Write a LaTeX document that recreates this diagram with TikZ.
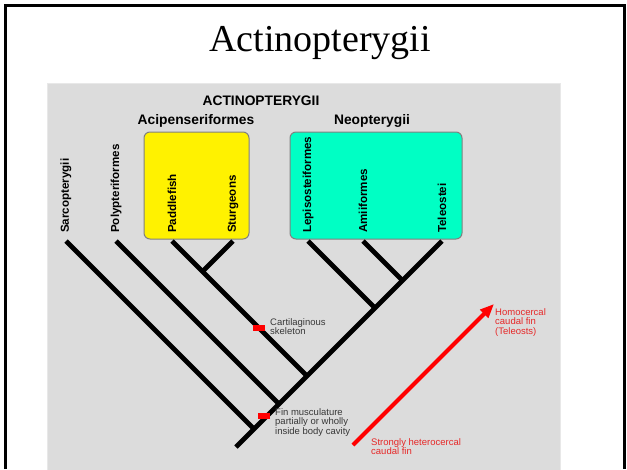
\documentclass[tikz,border=0pt]{standalone}
\usepackage{fontspec}
\setmainfont{Liberation Serif}
\setsansfont{Liberation Sans}
\usetikzlibrary{
  arrows.meta,
  calc,
  positioning
}
\definecolor{panelgray}{RGB}{220,220,220}
\definecolor{panelrim}{RGB}{232,232,232}
\definecolor{neogreen}{RGB}{0,255,196}
\definecolor{notegray}{RGB}{56,56,56}
\definecolor{notered}{RGB}{230,40,40}
\tikzset{
  % For the slide frame.
  frame/.style={
    line width=3pt},
%
  % For the grey panel behind the tree.
  panel/.style={
    fill=panelgray,
    draw=panelrim,
    line width=1pt},
%
  % For the coloured boxes round a clade.
  clade/.style={
    draw=gray,
    line width=1pt,
    rounded corners=6pt},
%
  % For the group names above the boxes.
  heading/.style={
    inner sep=0pt,
    font=\sffamily\bfseries\fontsize{13.8}{14}\selectfont},
%
  % For the upright taxon names.
  taxon/.style={
    inner sep=0pt,
    rotate=90,
    anchor=west,
    font=\sffamily\bfseries\fontsize{11.6}{12}\selectfont},
%
  % For the tree branches.
  branch/.style={
    line width=4.8pt},
%
  % For the red bars marking a character.
  mark bar/.style={
    fill=red,
    inner sep=0pt,
    minimum width=12pt,
    minimum height=6pt},
%
  % For explanations.
  note/.style={
    inner sep=0pt,
    anchor=north west,
    align=left,
    text=notegray,
    font=\sffamily\fontsize{9.5}{9.7}\selectfont},
  red note/.style={
    note,
    text=notered},
%
  % For the trend arrow.
  trend/.style={
    red,
    line width=4pt,
    -{Triangle[length=14pt,width=11pt]}}
}

\begin{document}
\begin{tikzpicture}[x=1pt,y=-1pt]
  \useasboundingbox (0,0) rectangle (627,469);

  \draw[frame] (5.5,469) -- (5.5,5.5) -- (624.5,5.5) -- (624.5,469);
  \node[anchor=base,
        font=\fontsize{38}{40}\selectfont] (title) at (320,51) {Actinopterygii};

  \draw[panel] (47,83) rectangle (560,470);

  \draw[clade, fill=yellow] (144,132) rectangle (249,239);
  \draw[clade, fill=neogreen] (290,132) rectangle (462,239);

  \node[heading] (actino) at (261,101) {ACTINOPTERYGII};
  \node[heading] (acip) at (196,121) {Acipenseriformes};
  \node[heading] (neo) at (372,121) {Neopterygii};

  \node[taxon] (sarco) at (66,233) {Sarcopterygii};
  \node[taxon] (poly) at (116,233) {Polypteriformes};
  \node[taxon] (paddle) at (172,233) {Paddlefish};
  \node[taxon] (sturgeon) at (233,233) {Sturgeons};
  \node[taxon] (lepi) at (308,233) {Lepisosteiformes};
  \node[taxon] (amii) at (363,233) {Amiiformes};
  \node[taxon] (teleo) at (442,233) {Teleostei};

  % Tips of the branches, just under the names.
  \coordinate (sarco tip) at (66,241);
  \coordinate (poly tip) at (116,241);
  \coordinate (paddle tip) at (172,241);
  \coordinate (sturgeon tip) at (233,241);
  \coordinate (lepi tip) at (308,241);
  \coordinate (amii tip) at (363,241);
  \coordinate (teleo tip) at (442,241);

  % Branch points.
  \coordinate (root) at (236,447);
  \coordinate (sarco joint) at (254,429);
  \coordinate (poly joint) at (279,404);
  \coordinate (acip joint) at (307,376);
  \coordinate (sturgeon joint) at (202.5,271.5);
  \coordinate (lepi joint) at (375,308);
  \coordinate (amii joint) at (402.5,280.5);

  \draw[branch] (root) -- (teleo tip);
  \draw[branch] (sarco tip) -- (sarco joint);
  \draw[branch] (poly tip) -- (poly joint);
  \draw[branch] (paddle tip) -- (acip joint);
  \draw[branch] (sturgeon tip) -- (sturgeon joint);
  \draw[branch] (lepi tip) -- (lepi joint);
  \draw[branch] (amii tip) -- (amii joint);

  \node[mark bar] (cartilage mark) at (259,328) {};
  \node[mark bar] (muscle mark) at (264,416) {};

  \node[note] (cartilage) at (270,318) {Cartilaginous\\skeleton};
  \node[note] (muscle) at (275,408) {Fin musculature\\partially or wholly\\inside body cavity};

  \coordinate (hetero end) at (353,445);
  \coordinate (homo end) at (494,304);
  \draw[trend] (hetero end) -- (homo end);

  \node[red note] (homo) at (495,308) {Homocercal\\caudal fin\\(Teleosts)};
  \node[red note] (hetero) at (371,438) {Strongly heterocercal\\caudal fin};
\end{tikzpicture}
\end{document}
